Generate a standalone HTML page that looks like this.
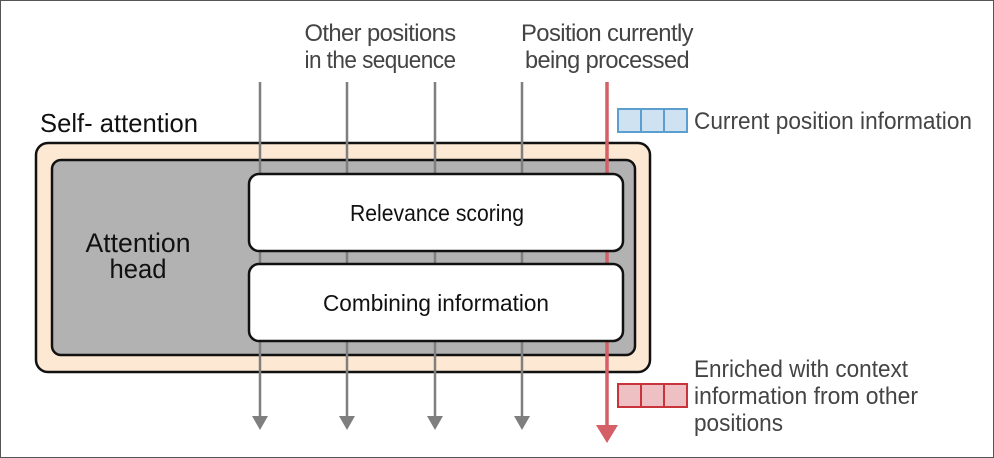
<!DOCTYPE html>
<html><head><meta charset="utf-8"><style>
html,body{margin:0;padding:0;background:#fff}
svg{display:block}
text{font-family:"Liberation Sans",sans-serif}
</style></head><body>
<svg width="994" height="458" viewBox="0 0 994 458" xmlns="http://www.w3.org/2000/svg">
<rect x="0.5" y="0.5" width="993" height="457" fill="#fff" stroke="#555" stroke-width="1"/>
<g font-size="24" fill="#444" text-anchor="middle" style="letter-spacing:-0.6px">
<text x="380" y="41" textLength="151" lengthAdjust="spacingAndGlyphs">Other positions</text>
<text x="380" y="68" textLength="151" lengthAdjust="spacingAndGlyphs">in the sequence</text>
<text x="607" y="41" textLength="172" lengthAdjust="spacingAndGlyphs">Position currently</text>
<text x="607" y="68" textLength="164" lengthAdjust="spacingAndGlyphs">being processed</text>
</g>
<text x="40" y="132" font-size="26" fill="#111" textLength="158" lengthAdjust="spacingAndGlyphs">Self- attention</text>
<rect x="36" y="143" width="614" height="229" rx="12" fill="#fde8d3" stroke="#111" stroke-width="2.5"/>
<rect x="52" y="160" width="583" height="195" rx="9" fill="#b2b2b2" stroke="#111" stroke-width="2.5"/>
<g stroke="#7f7f7f" stroke-width="2.5" fill="none">
<line x1="260" y1="82" x2="260" y2="418"/><line x1="347" y1="82" x2="347" y2="418"/>
<line x1="435" y1="82" x2="435" y2="418"/><line x1="522" y1="82" x2="522" y2="418"/>
</g>
<g fill="#7f7f7f">
<polygon points="252,416 268,416 260,430"/><polygon points="339,416 355,416 347,430"/>
<polygon points="427,416 443,416 435,430"/><polygon points="514,416 530,416 522,430"/>
</g>
<line x1="607" y1="82" x2="607" y2="428" stroke="#d45f66" stroke-width="3.5"/>
<polygon points="596,425 618,425 607,443" fill="#d45f66"/>
<rect x="249" y="174" width="374" height="77" rx="10" fill="#fff" stroke="#111" stroke-width="2.5"/>
<rect x="249" y="264" width="374" height="77" rx="10" fill="#fff" stroke="#111" stroke-width="2.5"/>
<g font-size="23" fill="#111" text-anchor="middle">
<text x="437" y="221" textLength="174" lengthAdjust="spacingAndGlyphs">Relevance scoring</text>
<text x="436" y="311" textLength="226" lengthAdjust="spacingAndGlyphs">Combining information</text>
</g>
<g font-size="27" fill="#111" text-anchor="middle">
<text x="138" y="252" textLength="105" lengthAdjust="spacingAndGlyphs">Attention</text>
<text x="138" y="278" textLength="57" lengthAdjust="spacingAndGlyphs">head</text>
</g>
<g stroke="#5a9fd0" stroke-width="2" fill="#cfe2f2">
<rect x="618" y="109" width="23" height="23"/><rect x="641" y="109" width="23" height="23"/><rect x="664" y="109" width="23" height="23"/>
</g>
<g stroke="#c9343c" stroke-width="2" fill="#efc0c3">
<rect x="618" y="384" width="23" height="23"/><rect x="641" y="384" width="23" height="23"/><rect x="664" y="384" width="23" height="23"/>
</g>
<g font-size="24" fill="#444">
<text x="694" y="129" textLength="278" lengthAdjust="spacingAndGlyphs">Current position information</text>
<text x="694" y="377" textLength="214" lengthAdjust="spacingAndGlyphs">Enriched with context</text>
<text x="694" y="404" textLength="224" lengthAdjust="spacingAndGlyphs">information from other</text>
<text x="694" y="431" textLength="89" lengthAdjust="spacingAndGlyphs">positions</text>
</g>
</svg>
</body></html>
